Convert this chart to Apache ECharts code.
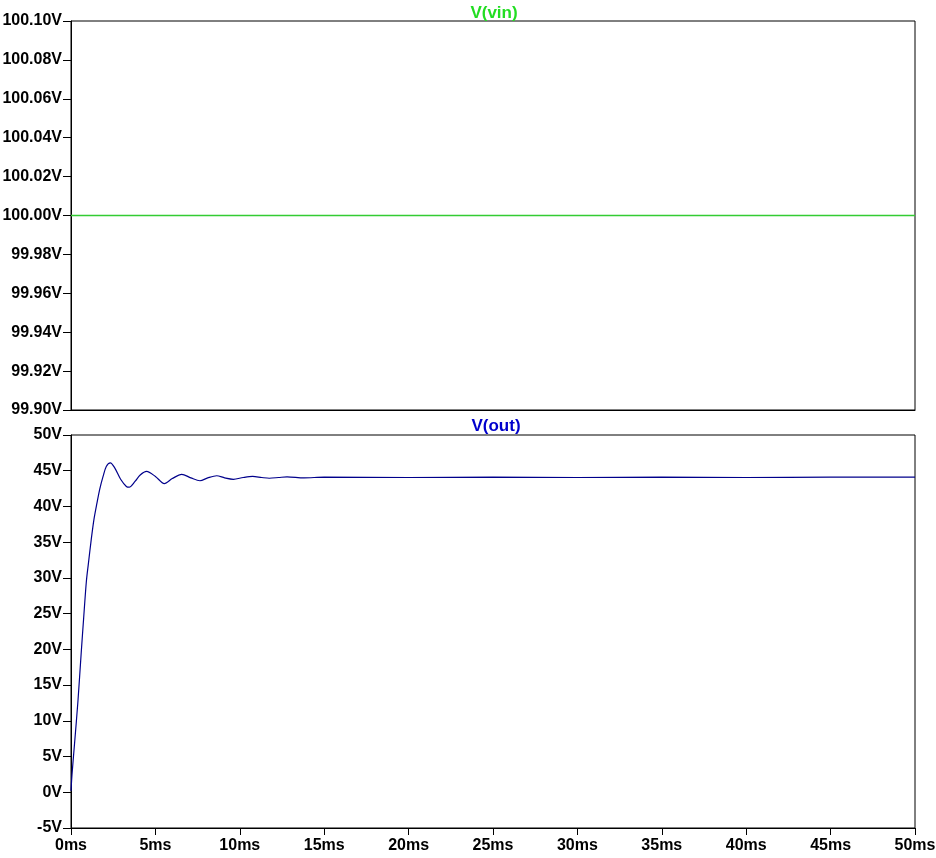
<!DOCTYPE html>
<html>
<head>
<meta charset="utf-8">
<title>V(vin) / V(out)</title>
<script src="https://cdn.jsdelivr.net/npm/echarts@6/dist/echarts.min.js"></script>
<style>
  html,body{margin:0;padding:0;background:#fff;}
  #chart{width:936px;height:858px;}
</style>
</head>
<body>
<div id="chart"></div>
<script>
// 时间 (ms)
var vinTime = [0, 50];
var vinValue = [100, 100];

// V(out) 读自图片
var outTime = [0, 0.06, 0.22, 0.41, 0.61, 0.75, 0.91, 1.03, 1.2, 1.36, 1.54, 1.7, 1.9, 2.09, 2.33, 2.59, 2.94, 3.28, 3.45, 3.79, 4.1, 4.48, 5.0, 5.53, 6.0, 6.56, 7.1, 7.64, 8.1, 8.63, 9.1, 9.62, 10.2, 10.76, 11.3, 11.75, 12.3, 12.8, 13.8, 15, 20, 25, 30, 35, 40, 45, 50];
var outValue = [0.2, 2.5, 7.1, 12.7, 19.7, 24.4, 29.5, 32.0, 35.4, 38.2, 40.5, 42.4, 44.2, 45.6, 46.1, 45.4, 43.8, 42.8, 42.7, 43.5, 44.4, 44.9, 44.2, 43.2, 43.9, 44.5, 44.0, 43.6, 44.0, 44.3, 44.0, 43.8, 44.05, 44.2, 44.05, 43.95, 44.05, 44.15, 44.0, 44.1, 44.05, 44.1, 44.05, 44.1, 44.05, 44.1, 44.1];

var xTicks = {min: 0, max: 50, interval: 5};

function pairs(xs, ys){
  var r = [];
  for (var i = 0; i < xs.length; i++) r.push([xs[i], ys[i]]);
  return r;
}

var labelFont = {color: '#000', fontFamily: 'Liberation Sans, Arial, sans-serif', fontWeight: 'bold', fontSize: 16};
var axisLine = {show: true, onZero: false, lineStyle: {color: '#000', width: 1}};

var myChart = echarts.init(document.getElementById('chart'));
var option = {
  animation: false,
  backgroundColor: '#fff',
  title: [
    {text: 'V(vin)', left: 489, top: 0, textAlign: 'center',
     textStyle: {color: '#22dd22', fontFamily: labelFont.fontFamily, fontWeight: 'bold', fontSize: 17}},
    {text: 'V(out)', left: 491, top: 413, textAlign: 'center',
     textStyle: {color: '#0000cc', fontFamily: labelFont.fontFamily, fontWeight: 'bold', fontSize: 17}}
  ],
  grid: [
    {left: 71, right: 21, top: 21, height: 389, show: true, borderColor: '#000', borderWidth: 1,
     containLabel: false, outerBoundsMode: 'none'},
    {left: 71, right: 21, top: 435, height: 393, show: true, borderColor: '#000', borderWidth: 1,
     containLabel: false, outerBoundsMode: 'none'}
  ],
  xAxis: [
    {type: 'value', gridIndex: 0, min: xTicks.min, max: xTicks.max, interval: xTicks.interval,
     axisLine: axisLine, axisTick: {show: false}, axisLabel: {show: false}, splitLine: {show: false}},
    {type: 'value', gridIndex: 1, min: xTicks.min, max: xTicks.max, interval: xTicks.interval,
     axisLine: axisLine, axisTick: {show: true, length: 7, lineStyle: {color: '#000'}},
     axisLabel: Object.assign({margin: 10, formatter: function(v){ return v + 'ms'; }}, labelFont),
     splitLine: {show: false}}
  ],
  yAxis: [
    {type: 'value', gridIndex: 0, min: 99.9, max: 100.1, interval: 0.02,
     axisLine: axisLine, axisTick: {show: true, length: 8, lineStyle: {color: '#000'}},
     axisLabel: Object.assign({margin: 9, formatter: function(v){ return v.toFixed(2) + 'V'; }}, labelFont),
     splitLine: {show: false}},
    {type: 'value', gridIndex: 1, min: -5, max: 50, interval: 5,
     axisLine: axisLine, axisTick: {show: true, length: 8, lineStyle: {color: '#000'}},
     axisLabel: Object.assign({margin: 9, formatter: function(v){ return v + 'V'; }}, labelFont),
     splitLine: {show: false}}
  ],
  series: [
    {name: 'V(vin)', type: 'line', xAxisIndex: 0, yAxisIndex: 0, showSymbol: false, z: 5,
     itemStyle: {color: '#33cc33'}, lineStyle: {color: '#33cc33', width: 1.5}, data: pairs(vinTime, vinValue)},
    {name: 'V(out)', type: 'line', xAxisIndex: 1, yAxisIndex: 1, showSymbol: false, smooth: 0.3,
     itemStyle: {color: '#00008b'}, lineStyle: {color: '#00008b', width: 1.2}, data: pairs(outTime, outValue)}
  ]
};
myChart.setOption(option);
</script>
</body>
</html>
